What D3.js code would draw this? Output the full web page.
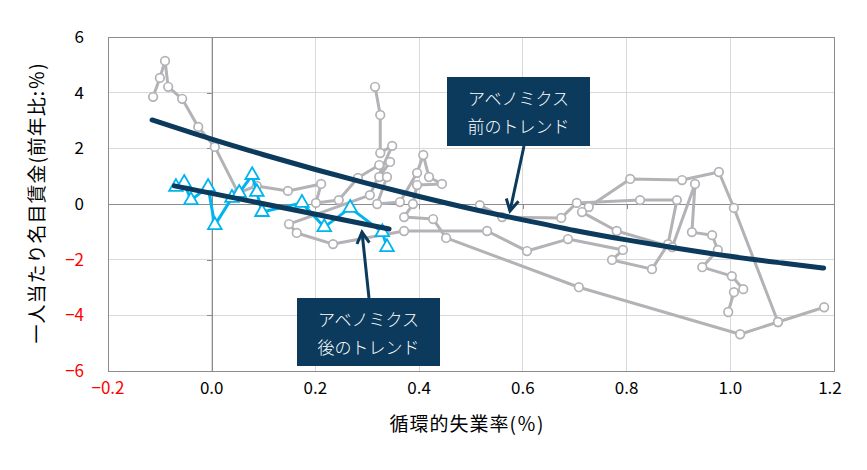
<!DOCTYPE html>
<html><head><meta charset="utf-8">
<script src="https://cdn.jsdelivr.net/npm/d3@7"></script>
<style>body{margin:0;background:#fff}svg{display:block}</style>
</head><body>
<svg id="chart" width="867" height="470"></svg>
<script>
// ---------- data ----------
const xTicks = [-0.2, 0.0, 0.2, 0.4, 0.6, 0.8, 1.0, 1.2];
const yTicks = [-6, -4, -2, 0, 2, 4, 6];
const xTitle = "循環的失業率(％)";
const yTitle = "一人当たり名目賃金(前年比:％)";
const preLabel = ["アベノミクス", "前のトレンド"];
const postLabel = ["アベノミクス", "後のトレンド"];

// gray series (before Abenomics), drawn as connected segments: [x, y]
const grayA = [[-0.113,3.85],[-0.100,4.53],[-0.090,5.14],[-0.084,4.21],[-0.057,3.78],[-0.026,2.77],[0.006,2.05],[0.051,0.40],[0.087,0.65],[0.147,0.47],[0.211,0.72],[0.201,0.04],[0.245,0.14],[0.282,0.94],[0.323,1.40],[0.344,1.51],[0.323,0.97],[0.338,0.97],[0.319,0.00],[0.363,0.07],[0.396,1.12],[0.408,1.76],[0.419,0.97],[0.444,0.72],[0.396,0.68],[0.388,0.00],[0.371,-0.47],[0.427,-0.54],[0.452,-1.22],[0.708,-2.99],[1.019,-4.68],[1.092,-4.24],[1.181,-3.71]];
const grayB = [[0.315,4.21],[0.325,3.20],[0.325,1.83],[0.348,2.09],[0.305,0.32],[0.149,-0.72],[0.164,-1.04],[0.234,-1.44],[0.371,-0.97],[0.531,-0.97],[0.608,-1.69],[0.687,-1.26],[0.793,-1.65],[0.772,-2.01],[0.849,-2.34],[0.880,-1.44],[0.897,0.14],[0.826,0.14],[0.704,0.04],[0.674,-0.50],[0.560,-0.47],[0.517,-0.04]];
const grayC = [[0.727,-0.11],[0.807,0.90],[0.907,0.86],[0.978,1.15],[1.007,-0.14],[1.092,-4.24]];
const grayD = [[0.714,-0.29],[0.781,-0.97],[0.888,-1.55],[0.932,0.72],[0.926,-1.01],[0.965,-1.12],[0.976,-1.65],[0.946,-2.27],[1.003,-2.59],[1.025,-3.06],[1.007,-3.17],[0.996,-3.88]];

// blue series (after Abenomics)
const blueX = [-0.069,-0.053,-0.040,-0.007,0.006,0.039,0.053,0.078,0.087,0.097,0.174,0.217,0.267,0.329,0.338];
const blueY = [0.61,0.76,0.14,0.61,-0.76,0.22,0.40,1.04,0.43,-0.29,0.04,-0.83,-0.14,-1.01,-1.55];

// trend lines
const preTrendX = [-0.115,0.0,0.1,0.2,0.3,0.4,0.5,0.6,0.7,0.8,0.9,1.0,1.1,1.18];
const preTrendY = [3.02,2.33,1.77,1.24,0.74,0.27,-0.17,-0.57,-0.95,-1.29,-1.60,-1.88,-2.12,-2.30];
const postTrendX = [-0.072,0.342];
const postTrendY = [0.65,-0.90];

// ---------- drawing ----------
const svg = d3.select("#chart");
const L = 108, R = 834, T = 37, B = 371;
const x = d3.scaleLinear().domain([-0.2, 1.2]).range([L, R]);
const y = d3.scaleLinear().domain([-6, 6]).range([B, T]);
const font = "'Noto Sans CJK JP', 'Noto Sans', sans-serif";
const navy = "#0b3a5c";
const grayCol = "#b3b3b7";
const blue = "#00b4f0";

// gridlines
svg.append("g").selectAll("line.v").data(xTicks).join("line")
  .attr("x1", d => x(d)).attr("x2", d => x(d)).attr("y1", T).attr("y2", B)
  .attr("stroke", "#d9d9d9").attr("stroke-width", 1).attr("shape-rendering", "crispEdges");
svg.append("g").selectAll("line.h").data(yTicks).join("line")
  .attr("y1", d => y(d)).attr("y2", d => y(d)).attr("x1", L).attr("x2", R)
  .attr("stroke", "#d9d9d9").attr("stroke-width", 1).attr("shape-rendering", "crispEdges");

// zero axes using d3 axes
const yAxisG = svg.append("g").attr("transform", `translate(${x(0)},0)`)
  .call(d3.axisLeft(y).tickValues(yTicks).tickSize(5).tickFormat(""));
const xAxisG = svg.append("g").attr("transform", `translate(0,${y(0)})`)
  .call(d3.axisBottom(x).tickValues(xTicks).tickSize(5).tickFormat(""));
[yAxisG, xAxisG].forEach(g => {
  g.selectAll("path,line").attr("stroke", "#8c8c8c").attr("shape-rendering", "crispEdges");
});

// frame
svg.append("rect").attr("x", L).attr("y", T).attr("width", R - L).attr("height", B - T)
  .attr("fill", "none").attr("stroke", "#8c8c8c").attr("stroke-width", 1).attr("shape-rendering", "crispEdges");

// tick labels
const fmtY = d => (d < 0 ? "\u2212" + Math.abs(d) : String(d));
svg.append("g").selectAll("text").data(yTicks).join("text")
  .attr("x", 84).attr("y", d => y(d)).attr("dy", "0.36em")
  .attr("text-anchor", "end").attr("font-family", font).attr("font-size", 17)
  .attr("fill", d => d < 0 ? "#ff0000" : "#000").text(fmtY);
const fmtX = d => (d < 0 ? "\u2212" + Math.abs(d).toFixed(1) : d.toFixed(1));
svg.append("g").selectAll("text").data(xTicks).join("text")
  .attr("x", d => x(d) - (d === 1.2 ? 4 : 0)).attr("y", 394)
  .attr("text-anchor", "middle").attr("font-family", font).attr("font-size", 17)
  .attr("fill", d => d < 0 ? "#ff0000" : "#000").text(fmtX);

// axis titles
svg.append("text").attr("x", 467).attr("y", 431).attr("text-anchor", "middle")
  .attr("font-family", font).attr("font-size", 19).attr("letter-spacing", 1).text(xTitle);
svg.append("text").attr("transform", "translate(44,203) rotate(-90)").attr("text-anchor", "middle")
  .attr("font-family", font).attr("font-size", 19).attr("letter-spacing", 1).text(yTitle);

// gray series
const line = d3.line().x(d => x(d[0])).y(d => y(d[1]));
const grays = [grayA, grayB, grayC, grayD];
const gGray = svg.append("g");
grays.forEach(s => {
  gGray.append("path").datum(s).attr("d", line).attr("fill", "none")
    .attr("stroke", grayCol).attr("stroke-width", 3).attr("stroke-linejoin", "round");
});
grays.forEach(s => {
  gGray.append("g").selectAll("circle").data(s).join("circle")
    .attr("cx", d => x(d[0])).attr("cy", d => y(d[1])).attr("r", 4.3)
    .attr("fill", "#fff").attr("stroke", grayCol).attr("stroke-width", 1.7);
});

// blue series
const blueData = blueX.map((v, i) => [v, blueY[i]]);
svg.append("path").datum(blueData).attr("d", line).attr("fill", "none")
  .attr("stroke", blue).attr("stroke-width", 3).attr("stroke-linejoin", "round");
const tri = d3.symbol().type(d3.symbolTriangle).size(80);
svg.append("g").selectAll("path").data(blueData).join("path")
  .attr("d", tri).attr("transform", d => `translate(${x(d[0])},${y(d[1])})`)
  .attr("fill", "#fff").attr("stroke", blue).attr("stroke-width", 1.8);

// trend lines
const preTrend = preTrendX.map((v, i) => [v, preTrendY[i]]);
const postTrend = postTrendX.map((v, i) => [v, postTrendY[i]]);
const cline = d3.line().x(d => x(d[0])).y(d => y(d[1])).curve(d3.curveMonotoneX);
svg.append("path").datum(preTrend).attr("d", cline).attr("fill", "none")
  .attr("stroke", navy).attr("stroke-width", 5).attr("stroke-linecap", "round");
svg.append("path").datum(postTrend).attr("d", cline).attr("fill", "none")
  .attr("stroke", navy).attr("stroke-width", 5).attr("stroke-linecap", "round");

// annotations
function box(bx, by, w, h, lines) {
  svg.append("rect").attr("x", bx).attr("y", by).attr("width", w).attr("height", h).attr("fill", navy);
  svg.append("g").selectAll("text").data(lines).join("text")
    .attr("x", bx + w / 2).attr("y", (d, i) => by + 28 + i * 28).attr("text-anchor", "middle")
    .attr("font-family", font).attr("font-size", 17).attr("font-weight", 300)
    .attr("fill", "#fff").text(d => d);
}
function arrow(x1, y1, x2, y2) {
  svg.append("line").attr("x1", x1).attr("y1", y1).attr("x2", x2).attr("y2", y2)
    .attr("stroke", navy).attr("stroke-width", 3);
  const a = Math.atan2(y2 - y1, x2 - x1), len = 13, sp = 0.5;
  const p = [[x2 - len * Math.cos(a - sp), y2 - len * Math.sin(a - sp)], [x2, y2],
             [x2 - len * Math.cos(a + sp), y2 - len * Math.sin(a + sp)]];
  svg.append("path").attr("d", d3.line()(p)).attr("fill", "none")
    .attr("stroke", navy).attr("stroke-width", 3).attr("stroke-linejoin", "miter");
}
box(447, 77, 143, 69, preLabel);
arrow(524, 146, 510, 211);
box(297, 298, 143, 68, postLabel);
arrow(369, 298, 362, 232);
</script>
</body></html>
